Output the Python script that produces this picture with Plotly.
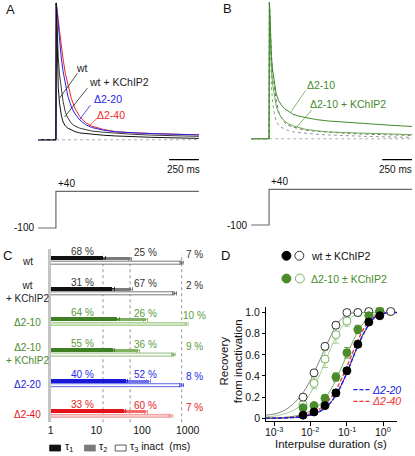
import math
import plotly.graph_objects as go

W, H = 415, 456
FONT = "Liberation Sans, Arial, Helvetica, sans-serif"

# ---------------- Panel A / B : normalized current traces ----------------
t_ms = [-150, 0, 3, 10, 20, 30, 45, 60, 80, 100, 130, 160, 200, 250, 300, 400, 500, 650, 800, 1000, 1200]
i_wt    = [0, 0, 1.0, 0.62, 0.38, 0.27, 0.18, 0.13, 0.10, 0.085, 0.07, 0.06, 0.05, 0.045, 0.04, 0.033, 0.028, 0.022, 0.018, 0.014, 0.010]
i_wt_k  = [0, 0, 1.0, 0.80, 0.60, 0.48, 0.36, 0.28, 0.20, 0.16, 0.12, 0.10, 0.085, 0.072, 0.064, 0.055, 0.048, 0.040, 0.034, 0.029, 0.025]
i_d20   = [0, 0, 1.0, 0.93, 0.82, 0.72, 0.60, 0.50, 0.40, 0.32, 0.24, 0.19, 0.145, 0.11, 0.09, 0.07, 0.058, 0.050, 0.045, 0.040, 0.036]
i_d40   = [0, 0, 1.0, 0.96, 0.88, 0.80, 0.69, 0.59, 0.48, 0.40, 0.30, 0.23, 0.17, 0.125, 0.10, 0.075, 0.060, 0.050, 0.045, 0.040, 0.036]
i_d10   = [0, 0, 1.0, 0.80, 0.60, 0.50, 0.40, 0.33, 0.28, 0.25, 0.22, 0.20, 0.18, 0.165, 0.155, 0.14, 0.13, 0.12, 0.11, 0.10, 0.09]
i_d10_k = [0, 0, 1.0, 0.70, 0.50, 0.40, 0.30, 0.24, 0.19, 0.16, 0.13, 0.11, 0.095, 0.08, 0.07, 0.058, 0.05, 0.045, 0.04, 0.035, 0.03]

# voltage protocol
proto_t = [-150, 0, 0, 1200]
proto_v = [-100, -100, 40, 40]
scale_ms = 250

# ---------------- Panel C : inactivation time constants ----------------
groups = ["wt", "wt + KChIP2", "Δ2-10", "Δ2-10 + KChIP2", "Δ2-20", "Δ2-40"]
group_labels = ["wt", "wt<br>+ KChIP2", "Δ2-10", "Δ2-10<br>+ KChIP2", "Δ2-20", "Δ2-40"]
tau1 = [14, 22, 29, 23, 45, 40]
tau2 = [55, 57, 122, 82, 140, 122]
tau3 = [740, 520, 950, 490, 740, 430]
tau1_err = [1.5, 2.5, 3, 2.5, 4, 4]
tau2_err = [5, 5, 12, 8, 12, 10]
tau3_err = [60, 50, 80, 40, 70, 40]
pct1 = [68, 31, 64, 55, 40, 33]
pct2 = [25, 67, 26, 36, 52, 60]
pct3 = [7, 2, 10, 9, 8, 7]
c_tick_vals = [1, 10, 100, 1000]

# ---------------- Panel D : recovery from inactivation ----------------
ipd = [0.00625, 0.0125, 0.025, 0.05, 0.1, 0.2, 0.4, 0.8, 1.6]
rec_wt      = [0.03, 0.06, 0.12, 0.24, 0.45, 0.70, 0.91, 0.97]
rec_wt_err  = [0.01, 0.01, 0.02, 0.03, 0.03, 0.03, 0.02, 0.01]
rec_wt_k    = [0.20, 0.43, 0.68, 0.88, 1.00, 1.00, 1.01, 1.01, 1.01]
rec_wt_k_err = [0.02, 0.03, 0.03, 0.03, 0.01, 0.01, 0.01, 0.01, 0.01]
rec_d10     = [0.10, 0.12, 0.19, 0.39, 0.62, 0.84, 0.97, 1.01]
rec_d10_err = [0.02, 0.02, 0.03, 0.04, 0.05, 0.04, 0.03, 0.02]
rec_d10_k   = [0.13, 0.33, 0.56, 0.79, 0.92, 1.00, 1.01, 1.02, 1.01]
rec_d10_k_err = [0.03, 0.05, 0.08, 0.08, 0.05, 0.03, 0.02, 0.02, 0.01]

fit_x = [0.0006, 0.001, 0.0018, 0.0032, 0.0056, 0.01, 0.018, 0.032, 0.056, 0.1, 0.18, 0.32, 0.56, 1.0, 2.4]
fit_wt_k  = [0.03, 0.04, 0.07, 0.13, 0.22, 0.36, 0.55, 0.74, 0.90, 0.98, 1.0, 1.0, 1.0, 1.0, 1.0]
fit_d10_k = [0.015, 0.02, 0.04, 0.07, 0.13, 0.24, 0.41, 0.62, 0.80, 0.92, 0.98, 1.0, 1.0, 1.0, 1.0]
fit_d10   = [0.0, 0.003, 0.008, 0.018, 0.035, 0.07, 0.13, 0.24, 0.40, 0.60, 0.79, 0.92, 0.98, 1.0, 1.0]
fit_wt    = [0.0, 0.001, 0.003, 0.007, 0.015, 0.032, 0.065, 0.13, 0.25, 0.43, 0.65, 0.83, 0.95, 0.99, 1.0]
fit_d20   = [0.0, 0.001, 0.003, 0.007, 0.015, 0.032, 0.065, 0.13, 0.25, 0.43, 0.65, 0.83, 0.95, 0.99, 1.0]
fit_d40   = [0.0, 0.002, 0.005, 0.011, 0.022, 0.045, 0.09, 0.17, 0.30, 0.49, 0.70, 0.87, 0.96, 0.99, 1.0]
d_tick_vals = [0.001, 0.01, 0.1, 1]
d_tick_text = ["10<sup>-3</sup>", "10<sup>-2</sup>", "10<sup>-1</sup>", "10<sup>0</sup>"]
d_ytick_vals = [0, 0.2, 0.4, 0.6, 0.8, 1.0]
d_ytick_text = ["0", "0.2", "0.4", "0.6", "0.8", "1.0"]

# ---------------- helpers ----------------
def px(x):
    return x / W

def py(y):
    return 1 - y / H

MSPP = 250 / 30.0  # ms per pixel

fig = go.Figure()

def line(x, y, color, width=1.0, xa="x", ya="y", dash=None, shape="linear"):
    fig.add_trace(go.Scatter(x=x, y=y, mode="lines", xaxis=xa, yaxis=ya,
                             line=dict(color=color, width=width, dash=dash, shape=shape),
                             hoverinfo="skip", showlegend=False))

# Panel A traces
for ys, col in [(i_d40, "#f02424"), (i_d20, "#2424ee"), (i_wt_k, "#3a3a3a"), (i_wt, "#111111")]:
    line(t_ms, ys, col, 1.0, "x", "y")
line(proto_t, proto_v, "#6a6a6a", 1.2, "x", "y2")

# Panel B traces
line(t_ms, i_wt, "#8a8a8a", 0.9, "x2", "y3", dash="dot")
line(t_ms, i_wt_k, "#5a5a5a", 0.9, "x2", "y3", dash="dot")
line(t_ms, i_d10_k, "#6cab50", 1.0, "x2", "y3")
line(t_ms, i_d10, "#3f8a28", 1.0, "x2", "y3")
line(proto_t, proto_v, "#6a6a6a", 1.2, "x2", "y4")

# Panel C bars
c1 = ["#111111", "#111111", "#3f7f23", "#3f7f23", "#1a1ad6", "#e3121a"]
c2 = ["#7a7a7a", "#7a7a7a", "#80b060", "#80b060", "#7272ea", "#ef6a6a"]
c3f = ["#ffffff", "#ffffff", "#d2e6c4", "#ffffff", "#ffffff", "#f8cccc"]
c3l = ["#555555", "#555555", "#a0ca88", "#6fa452", "#3a3ae0", "#f08a8a"]
lab_col = ["#222222", "#222222", "#4a8a2a", "#4a8a2a", "#2020e0", "#e3121a"]
pct_col = ["#333333", "#333333", "#5a9a3a", "#5a9a3a", "#2a2ae6", "#e62020"]
ROW = 30.9
for i, g in enumerate(groups):
    fig.add_trace(go.Bar(orientation="h", x=[tau3[i]], y=[g], offset=1 / ROW, width=3 / ROW,
                         xaxis="x3", yaxis="y5",
                         marker=dict(color=c3f[i], line=dict(color=c3l[i], width=0.8)),
                         error_x=dict(type="data", array=[tau3_err[i]], color=c3l[i], thickness=0.8, width=2),
                         hoverinfo="skip", showlegend=False))
    fig.add_trace(go.Bar(orientation="h", x=[tau2[i]], y=[g], offset=-3 / ROW, width=3 / ROW,
                         xaxis="x3", yaxis="y5",
                         marker=dict(color=c2[i], line=dict(width=0)),
                         error_x=dict(type="data", array=[tau2_err[i]], color=c2[i], thickness=0.8, width=2),
                         hoverinfo="skip", showlegend=False))
    fig.add_trace(go.Bar(orientation="h", x=[tau1[i]], y=[g], offset=-4 / ROW, width=4 / ROW,
                         xaxis="x3", yaxis="y5",
                         marker=dict(color=c1[i], line=dict(width=0)),
                         error_x=dict(type="data", array=[tau1_err[i]], color=c1[i], thickness=0.8, width=2),
                         hoverinfo="skip", showlegend=False))

# Panel D fits
line(fit_x, fit_wt_k, "#777777", 0.9, "x4", "y6", shape="spline")
line(fit_x, fit_d10_k, "#9cc884", 0.9, "x4", "y6", shape="spline")
line(fit_x, fit_d10, "#6aa84a", 0.9, "x4", "y6", shape="spline")
line(fit_x, fit_wt, "#222222", 0.9, "x4", "y6", shape="spline")
line(fit_x, fit_d40, "#f03030", 1.3, "x4", "y6", dash="4px,2px", shape="spline")
line(fit_x, fit_d20, "#2020e8", 1.5, "x4", "y6", dash="4px,2px", shape="spline")

def pts(y, err, fill, edge, ecol):
    fig.add_trace(go.Scatter(x=ipd[:len(y)], y=y, mode="markers", xaxis="x4", yaxis="y6",
                             marker=dict(size=8, color=fill, line=dict(color=edge, width=1)),
                             error_y=dict(type="data", array=err, color=ecol, thickness=0.8, width=3),
                             hoverinfo="skip", showlegend=False))

pts(rec_d10_k, rec_d10_k_err, "#ffffff", "#7cb360", "#8cc070")
pts(rec_wt_k, rec_wt_k_err, "#ffffff", "#333333", "#555555")
pts(rec_d10, rec_d10_err, "#4b8b2b", "#4b8b2b", "#4b8b2b")
pts(rec_wt, rec_wt_err, "#000000", "#000000", "#000000")

# ---------------- shapes ----------------
shapes = []
# zero baselines
shapes.append(dict(type="line", xref="x", yref="y", x0=t_ms[0], x1=t_ms[-1], y0=0, y1=0,
                   line=dict(color="#999999", width=0.8, dash="dot")))
shapes.append(dict(type="line", xref="x2", yref="y3", x0=t_ms[0], x1=t_ms[-1], y0=0, y1=0,
                   line=dict(color="#999999", width=0.8, dash="dot")))
# scale bars
for xr in ["x", "x2"]:
    shapes.append(dict(type="line", xref=xr, yref="paper", x0=t_ms[-1] - scale_ms, x1=t_ms[-1],
                       y0=py(160), y1=py(160), line=dict(color="#000000", width=1.3)))
# leader lines A
for (x0, y0, x1, y1, col) in [(57, 98, 75, 73, "#222222"), (62, 117, 85, 88, "#222222"),
                              (77, 120, 88, 105, "#2424ee"), (87, 126, 95, 118, "#f02424")]:
    shapes.append(dict(type="line", xref="paper", yref="paper", x0=px(x0), y0=py(y0), x1=px(x1), y1=py(y1),
                       line=dict(color=col, width=0.8)))
# leader lines B
for (x0, y0, x1, y1, col) in [(290, 112, 305, 90, "#6aa84a"), (295, 128, 311, 110, "#6aa84a")]:
    shapes.append(dict(type="line", xref="paper", yref="paper", x0=px(x0), y0=py(y0), x1=px(x1), y1=py(y1),
                       line=dict(color=col, width=0.8)))
# C dashed reference lines at wt time constants
for v in [tau1[0], tau2[0], tau3[0]]:
    shapes.append(dict(type="line", xref="x3", yref="paper", x0=v, x1=v,
                       y0=py(425), y1=py(255), line=dict(color="#777777", width=0.8, dash="dot"), layer="below"))
# C legend rectangles
for (x0, fc, lc) in [(47, "#111111", "#111111"), (82, "#7a7a7a", "#7a7a7a"), (113, "#ffffff", "#333333")]:
    shapes.append(dict(type="rect", xref="paper", yref="paper", x0=px(x0), x1=px(x0 + 11), y0=py(454), y1=py(448),
                       fillcolor=fc, line=dict(color=lc, width=0.8)))
# D legend circles
for (cx, cy, fc, lc) in [(285.5, 257, "#000000", "#000000"), (298.5, 257, "#ffffff", "#333333"),
                         (285.5, 280, "#4b8b2b", "#4b8b2b"), (299, 280, "#ffffff", "#7cb360")]:
    shapes.append(dict(type="circle", xref="paper", yref="paper", x0=px(cx - 4.5), x1=px(cx + 4.5),
                       y0=py(cy + 4.5), y1=py(cy - 4.5), fillcolor=fc, line=dict(color=lc, width=1)))
# D dashed legend lines
shapes.append(dict(type="line", xref="paper", yref="paper", x0=px(353), x1=px(370), y0=py(392), y1=py(392),
                   line=dict(color="#2020e8", width=1.3, dash="4px,2px")))
shapes.append(dict(type="line", xref="paper", yref="paper", x0=px(353), x1=px(370), y0=py(404), y1=py(404),
                   line=dict(color="#f03030", width=1.3, dash="4px,2px")))

# ---------------- annotations ----------------
ann = []

def text(x, y, s, size=10, color="#111111", xanchor="center", yanchor="middle", xref="paper", yref="paper",
         xshift=0, yshift=0, angle=0):
    ann.append(dict(x=x, y=y, text=s, xref=xref, yref=yref, xanchor=xanchor, yanchor=yanchor,
                    showarrow=False, font=dict(family=FONT, size=size, color=color),
                    xshift=xshift, yshift=yshift, textangle=angle, borderpad=0))

# panel letters
text(px(8), py(9), "A", 13)
text(px(226), py(8), "B", 13)
text(px(5), py(257), "C", 13)
text(px(224), py(257), "D", 13)

# A labels
text(px(80), py(68), "wt", 10.5, "#222222")
text(px(117), py(82), "wt + KChIP2", 10.5, "#222222")
text(px(106), py(99), "Δ2-20", 10.5, "#2424ee")
text(px(109), py(115), "Δ2-40", 10.5, "#f02424")
# B labels
text(px(320), py(85), "Δ2-10", 10.5, "#3f8a28")
text(px(348), py(104), "Δ2-10 + KChIP2", 10.5, "#3f8a28")
# scale bar text
text(t_ms[-1] - scale_ms / 2, py(170), "250 ms", 10, xref="x")
text(t_ms[-1] - scale_ms / 2, py(170), "250 ms", 10, xref="x2", xshift=-2)
# protocol labels
for xr, yr in [("x", "y2"), ("x2", "y4")]:
    text(proto_t[0], proto_v[0], "-100", 10, xanchor="right", xref=xr, yref=yr, xshift=-3)
    text(proto_t[1], proto_v[-1], "+40", 10, xanchor="left", yanchor="bottom", xref=xr, yref=yr, xshift=1, yshift=1)

# C group labels & percentages
for i, g in enumerate(groups):
    text(px(25), i, group_labels[i], 10, lab_col[i], yref="y5", yshift=-1.5)
    text(math.log10(5.1), i, f"{pct1[i]} %", 10, pct_col[i], xref="x3", yref="y5", yshift=8.7)
    text(math.log10(62), i, f"{pct2[i]} %", 10, pct_col[i], xanchor="left", xref="x3", yref="y5", yshift=7.8)
    text(math.log10(1420), i, f"{pct3[i]} %", 10, pct_col[i], xref="x3", yref="y5", yshift=5.8)
# C legend
text(px(61), py(450), "τ<sub>1</sub>", 10.5, xanchor="left")
text(px(96), py(450), "τ<sub>2</sub>", 10.5, xanchor="left")
text(px(127), py(450), "τ<sub>3</sub> inact  (ms)", 10.5, xanchor="left")

# D x tick labels (placed as text to control their height)
for v, s in zip(d_tick_vals, d_tick_text):
    text(math.log10(v), py(434), s, 10.5, xref="x4")

# D legend & titles
text(px(309), py(257), "wt ± KChIP2", 10.5, "#111111", xanchor="left")
text(px(309), py(280), "Δ2-10 ± KChIP2", 10.5, "#4b8b2b", xanchor="left")
text(px(371), py(392), "<i>Δ2-20</i>", 10.5, "#2020e8", xanchor="left")
text(px(371), py(404), "<i>Δ2-40</i>", 10.5, "#f03030", xanchor="left")
text(px(230), py(363), "Recovery<br>from inactivation", 11.5, angle=-90)
text(px(330), py(447), "Interpulse duration (s)", 11.5)

hidden = dict(visible=False, showgrid=False, zeroline=False)
k = MSPP
fig.update_layout(
    width=W, height=H, autosize=False,
    margin=dict(l=0, r=0, t=0, b=0),
    paper_bgcolor="white", plot_bgcolor="rgba(0,0,0,0)",
    showlegend=False, barmode="overlay", bargap=0,
    font=dict(family=FONT, size=10, color="#111111"),
    xaxis=dict(domain=[px(30), px(200)], range=[(30 - 53.3) * k, (200 - 53.3) * k], anchor="y", **hidden),
    yaxis=dict(domain=[py(148), py(0)], range=[-8 / 138, 1 + 2 / 138], anchor="x", **hidden),
    yaxis2=dict(domain=[py(240), py(180)], range=[-100 - 11 * 140 / 37, 40 + 12 * 140 / 37], anchor="x", **hidden),
    xaxis2=dict(domain=[px(245), px(415)], range=[(245 - 268) * k, (415 - 268) * k], anchor="y3", **hidden),
    yaxis3=dict(domain=[py(148), py(0)], range=[-9 / 138, 1 + 1 / 138], anchor="x2", **hidden),
    yaxis4=dict(domain=[py(240), py(180)], range=[-100 - 14 * 140 / 36, 40 + 10 * 140 / 36], anchor="x2", **hidden),
    xaxis3=dict(domain=[px(48), px(200)], type="log", range=[0, 152 / 46], anchor="y5",
                tickvals=c_tick_vals, ticktext=[str(v) for v in c_tick_vals], ticks="", showline=False,
                showgrid=False, zeroline=False, tickfont=dict(size=10.5, family=FONT, color="#111111")),
    yaxis5=dict(domain=[py(425), py(250)], type="category", categoryorder="array", categoryarray=groups,
                range=[(425 - 261.5) / ROW, (250 - 261.5) / ROW], anchor="x3",
                showticklabels=False, ticks="", showgrid=False, zeroline=False,
                showline=True, linecolor="#c4c4c4", linewidth=2.5),
    xaxis4=dict(domain=[px(265), px(397)], type="log", range=[-3.22, 0.38], anchor="y6",
                tickvals=d_tick_vals, showticklabels=False, ticks="outside", ticklen=4, tickwidth=1,
                tickcolor="#000", showline=True, linecolor="#000", linewidth=1, showgrid=False, zeroline=False),
    yaxis6=dict(domain=[py(424), py(309)], range=[-3 / 106.7, 1 + 5.3 / 106.7], anchor="x4",
                tickvals=d_ytick_vals, ticktext=d_ytick_text, ticks="outside", ticklen=3, tickwidth=1,
                tickcolor="#000", showline=True, linecolor="#000", linewidth=1, showgrid=False, zeroline=False,
                tickfont=dict(size=10.5, family=FONT, color="#111111")),
    shapes=shapes,
    annotations=ann,
)

fig.write_html("out.html", config={"displayModeBar": False, "staticPlot": True},
               post_script="document.body.style.margin='0';document.body.style.overflow='hidden';")
